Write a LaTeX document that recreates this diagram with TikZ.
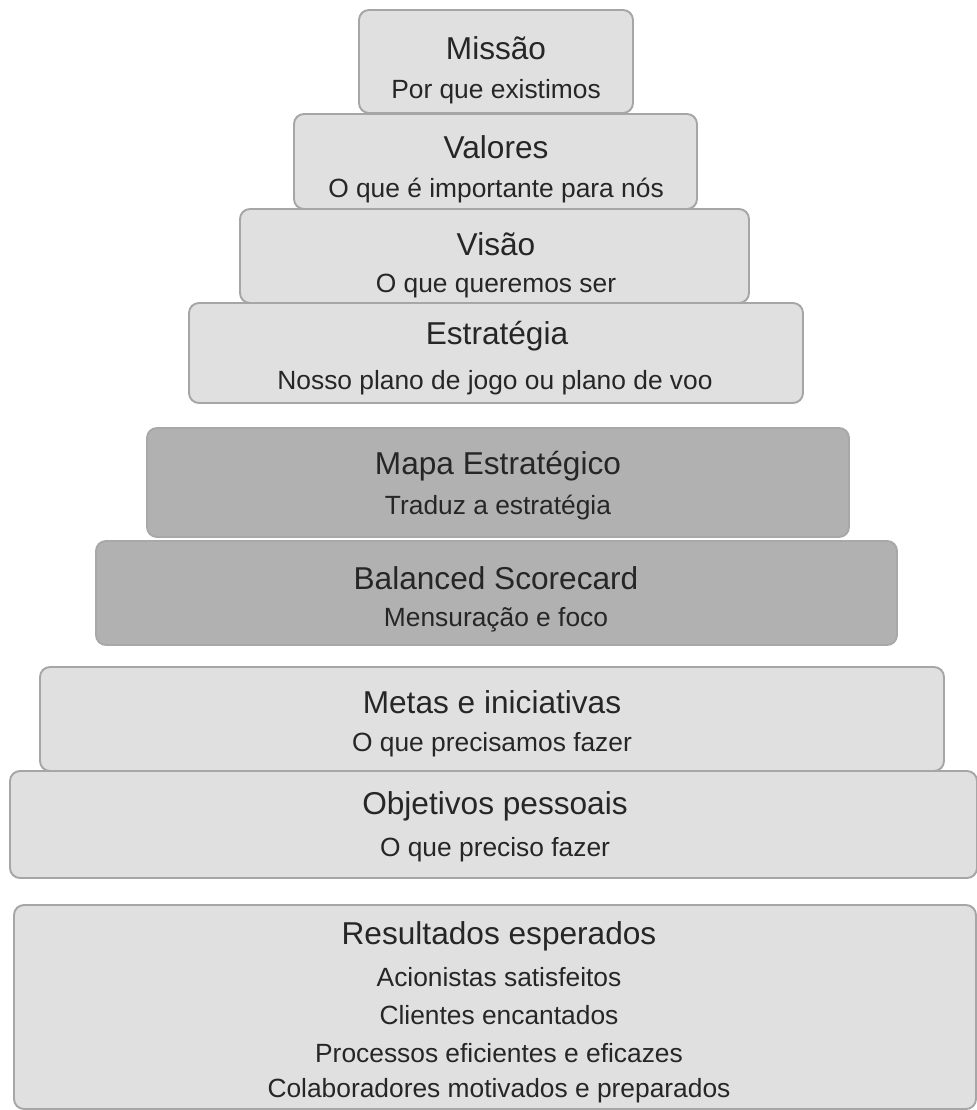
\documentclass[tikz,border=0pt]{standalone}
\usepackage{fontspec}
\setmainfont{Liberation Sans}
\definecolor{tierfill}{HTML}{E0E0E0}
\definecolor{tierdark}{HTML}{B1B1B1}
\definecolor{tierline}{HTML}{A6A6A6}
\definecolor{tiertext}{HTML}{262626}
\tikzset{
  tier/.style={fill=tierfill, draw=tierline, line width=1.1pt, rounded corners=0.2cm},
  tierdk/.style={fill=tierdark, draw=tierdark!95!black, line width=1.1pt, rounded corners=0.2cm},
  head/.style={text=tiertext, font=\fontsize{18}{20}\selectfont, inner sep=0pt},
  sub/.style={text=tiertext, font=\fontsize{15}{17}\selectfont, inner sep=0pt}
}
\begin{document}
\begin{tikzpicture}[x=0.02cm, y=-0.02cm]
\useasboundingbox (0,0) rectangle (977,1110);
% pyramid
\draw[tier] (359,10) rectangle (633,113);
\node[head] (missao) at (496,48) {Missão};
\node[sub] (missaosub) at (496,92) {Por que existimos};
\draw[tier] (294,114) rectangle (697,209);
\node[head] (valores) at (496,147) {Valores};
\node[sub] (valoressub) at (496,191) {O que é importante para nós};
\draw[tier] (240,209) rectangle (749,303);
\node[head] (visao) at (496,244) {Visão};
\node[sub] (visaosub) at (496,286) {O que queremos ser};
\draw[tier] (189,303) rectangle (803,403);
\node[head] (estrategia) at (497,336) {Estratégia};
\node[sub] (estrategiasub) at (495,383) {Nosso plano de jogo ou plano de voo};
% gestao
\draw[tierdk] (147,428) rectangle (849,537);
\node[head] (mapa) at (498,466) {Mapa Estratégico};
\node[sub] (mapasub) at (498,508) {Traduz a estratégia};
\draw[tierdk] (96,541) rectangle (897,645);
\node[head] (bsc) at (496,578) {Balanced Scorecard};
\node[sub] (bscsub) at (496,620) {Mensuração e foco};
% execucao
\draw[tier] (40,667) rectangle (944,771);
\node[head] (metas) at (492,702) {Metas e iniciativas};
\node[sub] (metassub) at (492,745) {O que precisamos fazer};
\draw[tier] (10,771) rectangle (977,878);
\node[head] (objetivos) at (495,806) {Objetivos pessoais};
\node[sub] (objetivossub) at (495,850) {O que preciso fazer};
% resultados
\draw[tier] (14,905) rectangle (976,1109);
\node[head] (result) at (499,936) {Resultados esperados};
\node[sub] (acion) at (499,977) {Acionistas satisfeitos};
\node[sub] (clien) at (499,1015) {Clientes encantados};
\node[sub] (proc) at (499,1053) {Processos eficientes e eficazes};
\node[sub] (colab) at (499,1091) {Colaboradores motivados e preparados};
\end{tikzpicture}
\end{document}
